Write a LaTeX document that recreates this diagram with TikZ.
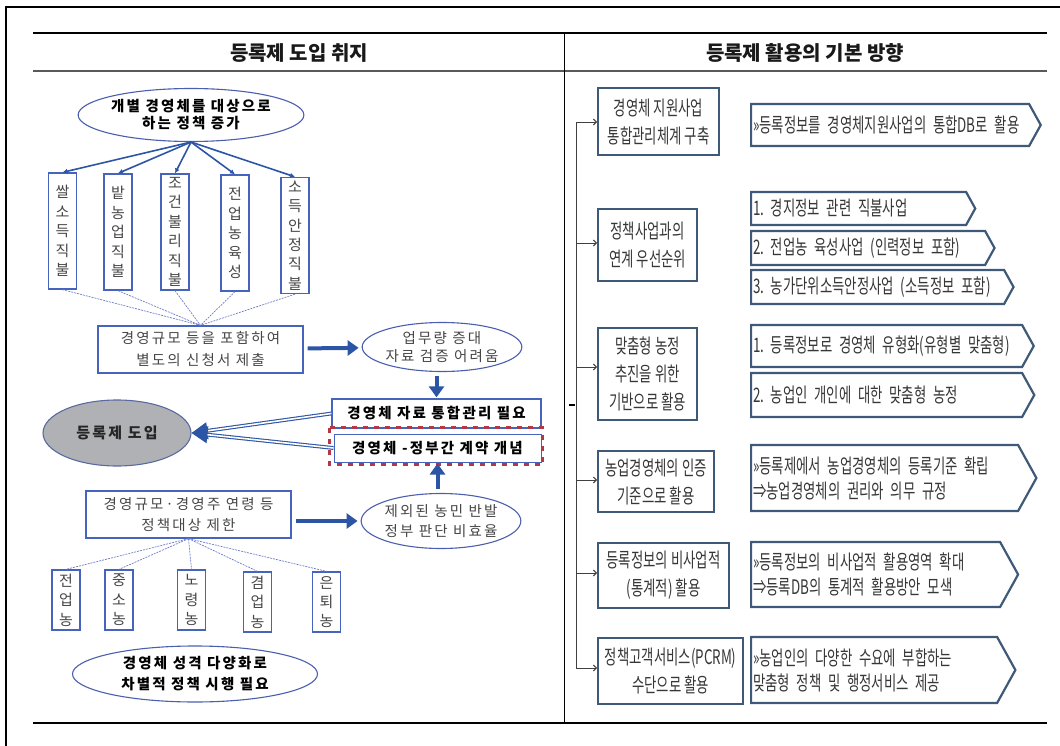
\documentclass[tikz,border=0pt]{standalone}
\usepackage{fontspec}
\setmainfont{Noto Sans CJK KR}
\newfontfamily\krspaced[LetterSpace=15]{Noto Sans CJK KR}
\newfontfamily\krnarrow[FakeStretch=0.67]{Noto Sans CJK KR}
\usetikzlibrary{shapes.geometric,shapes.symbols,arrows.meta}
\definecolor{arrowblue}{RGB}{45,85,165}
\definecolor{boxblue}{RGB}{70,100,190}
\definecolor{ovalblue}{RGB}{75,95,175}
\definecolor{dashblue}{RGB}{110,125,200}
\definecolor{dashred}{RGB}{180,55,70}
\definecolor{adoptgray}{RGB}{176,177,180}
\definecolor{slate}{RGB}{62,90,120}
\definecolor{txtgray}{RGB}{70,70,70}
\definecolor{txtdark}{RGB}{55,55,55}
\frenchspacing

\begin{document}
\begin{tikzpicture}[x=1pt,y=-1pt,
  head/.style={font=\bfseries\fontsize{20}{23}\selectfont,text=black!90},
  oval/.style={ellipse,draw=ovalblue,line width=1.1pt,fill=white,inner sep=0pt,align=center,
    text=txtgray,font=\krspaced\fontsize{14.5}{17}\selectfont},
  lbox/.style={draw=boxblue,line width=1.3pt,fill=white,inner sep=0pt,align=center,
    text=txtgray,font=\krspaced\fontsize{14.5}{22}\selectfont},
  vbox/.style={draw=boxblue,line width=1.3pt,minimum width=28pt,inner sep=1pt,align=center,
    text=txtgray,font=\fontsize{15}{19.4}\selectfont},
  tree/.style={draw=arrowblue,line width=1.6pt,-{Latex[length=5pt,width=5pt]}},
  thin/.style={draw=dashblue,line width=0.7pt,dash pattern=on 2pt off 1pt},
  bigarrow/.style={draw=arrowblue,line width=4pt,shorten <=4pt,shorten >=3pt,
    -{Triangle[length=11pt,width=15pt]}},
  dblarrow/.style={draw=arrowblue,double=white,double distance=1.6pt,line width=1.1pt,
    -{Triangle[length=16pt,width=17pt]}},
  reddash/.style={draw=dashred,line width=3.5pt,dash pattern=on 5pt off 6pt},
  rbox/.style={draw=slate,line width=2.2pt,fill=white,inner sep=2pt,align=center,anchor=north west,
    text=txtdark,font=\krnarrow\fontsize{20}{28}\selectfont},
  tag/.style={signal,signal to=east,signal pointer angle=122,draw=slate,line width=2.2pt,fill=white,
    inner xsep=2pt,inner ysep=0pt,align=left,anchor=west,text=txtdark,font=\krnarrow\fontsize{20}{25}\selectfont},
  spine/.style={draw=black!75,line width=0.9pt},
  link/.style={spine,-{Straight Barb[length=3pt,width=6pt]}}
]
\useasboundingbox (0,0) rectangle (1060,746);

% frame and table
\draw[line width=1.5pt] (6,746) -- (6,7) -- (1060,7);
\draw[line width=1.6pt] (33,33) -- (1047,33);
\draw[line width=1.2pt,black!65] (33,71) -- (1047,71);
\draw[line width=1.6pt] (33,723) -- (1047,723);
\draw[line width=1pt] (564,33) -- (564,723);
\node[head] (lhead) at (299,53) {등록제 도입 취지};
\node[head] (rhead) at (805,53) {등록제 활용의 기본 방향};

% left: upper branch
\node[oval,font=\krspaced\bfseries\fontsize{14.5}{17}\selectfont,text=black,
  minimum width=189pt,minimum height=53pt] (policy) at (191,115) {개별 경영체를 대상으로\\하는 정책 증가};
\node[vbox,minimum height=116pt] (rice) at (62.5,231) {쌀\\소\\득\\직\\불};
\node[vbox,minimum height=116pt] (field) at (118,232) {밭\\농\\업\\직\\불};
\node[vbox,minimum height=116pt] (less) at (175,232) {조\\건\\불\\리\\직\\불};
\node[vbox,minimum height=116pt] (full) at (235,233) {전\\업\\농\\육\\성};
\node[vbox,minimum height=116pt] (income) at (295,235.5) {소\\득\\안\\정\\직\\불};
\node[lbox,minimum width=205pt,minimum height=47pt] (apply) at (200.5,349.5) {경영규모 등을 포함하여\\별도의 신청서 제출};
\draw[tree] (policy.south) -- (rice.north);
\draw[tree] (policy.south) -- (field.north);
\draw[tree] (policy.south) -- (less.north);
\draw[tree] (policy.south) -- (full.north);
\draw[tree] (policy.south) -- (income.north);
\draw[thin] (rice.south) -- (apply.north);
\draw[thin] (field.south) -- (apply.north);
\draw[thin] (less.south) -- (apply.north);
\draw[thin] (full.south) -- (apply.north);
\draw[thin] (income.south) -- (apply.north);

\node[oval,minimum width=144pt,minimum height=49pt,font=\krspaced\fontsize{14.5}{18}\selectfont] (burden) at (442,347) {업무량 증대\\자료 검증 어려움};
\draw[bigarrow] (apply) -- (burden);

% left: middle
\node[lbox,font=\krspaced\bfseries\fontsize{14.5}{17}\selectfont,text=black,
  minimum width=209pt,minimum height=29pt] (integ) at (436.5,413.5) {경영체 자료 통합관리 필요};
\node[lbox,font=\krspaced\bfseries\fontsize{14.5}{17}\selectfont,text=black,line width=1pt,
  minimum width=207pt,minimum height=28pt] (contract) at (437.5,448) {경영체 -정부간 계약 개념};
\draw[reddash] ([shift={(-4,-6)}]contract.north west) rectangle ([shift={(1,2)}]contract.south east);
\draw[bigarrow,shorten >=1pt] (burden.south -| integ) -- (integ.north);
\node[oval,fill=adoptgray,draw=ovalblue!70!gray,font=\krspaced\bfseries\fontsize{15}{17}\selectfont,text=black!85,
  minimum width=148pt,minimum height=66pt] (adopt) at (117,433) {등록제 도입};
\draw[dblarrow] (integ.west) -- (adopt.east);
\draw[dblarrow] (contract.west) -- (adopt.east);

% left: lower branch
\node[lbox,minimum width=205pt,minimum height=47pt,font=\krspaced\fontsize{14.5}{21}\selectfont] (limit) at (188.5,514.5) {경영규모·경영주 연령 등\\정책대상 제한};
\node[oval,minimum width=153pt,minimum height=55pt,font=\krspaced\fontsize{14.5}{20}\selectfont] (protest) at (441,521) {제외된 농민 반발\\정부 판단 비효율};
\draw[bigarrow] (limit.east |- protest.west) -- (protest.west);
\draw[bigarrow,shorten >=1pt] (protest.north -| contract) -- (contract.south);
\node[vbox,minimum height=60pt] (fulltime) at (66,600) {전\\업\\농};
\node[vbox,minimum height=60pt] (small) at (119,600) {중\\소\\농};
\node[vbox,minimum height=60pt] (aged) at (191.5,600) {노\\령\\농};
\node[vbox,minimum height=60pt] (parttime) at (257.5,602) {겸\\업\\농};
\node[vbox,minimum height=60pt] (retired) at (326.5,602) {은\\퇴\\농};
\draw[thin] (limit.south) -- (fulltime.north);
\draw[thin] (limit.south) -- (small.north);
\draw[thin] (limit.south) -- (aged.north);
\draw[thin] (limit.south) -- (parttime.north);
\draw[thin] (limit.south) -- (retired.north);
\node[oval,font=\krspaced\bfseries\fontsize{14.5}{21}\selectfont,text=black,
  minimum width=245pt,minimum height=56pt] (diverse) at (195,674) {경영체 성격 다양화로\\차별적 정책 시행 필요};

% right column
\node[rbox,minimum width=121pt,minimum height=67pt] (r1) at (597,87) {경영체 지원사업\\통합관리체계 구축};
\node[rbox,minimum width=99pt,minimum height=72pt] (r2) at (597,208) {정책사업과의\\연계 우선순위};
\node[rbox,minimum width=99pt,minimum height=92pt] (r3) at (597,327) {맞춤형 농정\\추진을 위한\\기반으로 활용};
\node[rbox,minimum width=116pt,minimum height=61pt] (r4) at (597,450) {농업경영체의 인증\\기준으로 활용};
\node[rbox,minimum width=131pt,minimum height=65pt] (r5) at (597,542) {등록정보의 비사업적\\(통계적) 활용};
\node[rbox,minimum width=145pt,minimum height=66pt] (r6) at (597,637) {정책고객서비스(PCRM)\\수단으로 활용};

\node[tag,minimum height=42pt,text width=274pt] (t1) at (750,125) {»등록정보를~경영체지원사업의~통합DB로~활용};
\node[tag,minimum height=33pt,text width=211pt] (t2a) at (750,208.5) {1. 경지정보 관련 직불사업};
\node[tag,minimum height=34pt,text width=230pt] (t2b) at (750,248) {2. 전업농 육성사업 (인력정보 포함)};
\node[tag,minimum height=34pt,text width=249pt] (t2c) at (750,287) {3. 농가단위소득안정사업 (소득정보 포함)};
\node[tag,minimum height=42pt,text width=267pt] (t3a) at (750,346) {1. 등록정보로 경영체 유형화(유형별 맞춤형)};
\node[tag,minimum height=44pt,text width=267pt] (t3b) at (750,395) {2. 농업인 개인에 대한 맞춤형 농정};
\node[tag,minimum height=66pt,text width=263pt] (t4) at (750,478) {»등록제에서 농업경영체의 등록기준 확립\\⇒농업경영체의 권리와 의무 규정};
\node[tag,minimum height=65pt,text width=245pt] (t5) at (750,574.5) {»등록정보의 비사업적 활용영역 확대\\⇒등록DB의 통계적 활용방안 모색};
\node[tag,minimum height=66pt,text width=242pt] (t6) at (750,670) {»농업인의 다양한 수요에 부합하는\\맞춤형 정책 및 행정서비스 제공};

\coordinate (j1) at (576,122);
\coordinate (j2) at (576,243);
\coordinate (j3) at (576,367);
\coordinate (j4) at (576,480);
\coordinate (j5) at (576,573);
\coordinate (j6) at (576,668);
\draw[spine] (j1) -- (j6);
\draw[link] (j1) -- (j1 -| r1.west);
\draw[link] (j2) -- (j2 -| r2.west);
\draw[link] (j3) -- (j3 -| r3.west);
\draw[link] (j4) -- (j4 -| r4.west);
\draw[link] (j5) -- (j5 -| r5.west);
\draw[link] (j6) -- (j6 -| r6.west);
\draw[line width=1.6pt] (569,405) -- (575,405);
\end{tikzpicture}
\end{document}
